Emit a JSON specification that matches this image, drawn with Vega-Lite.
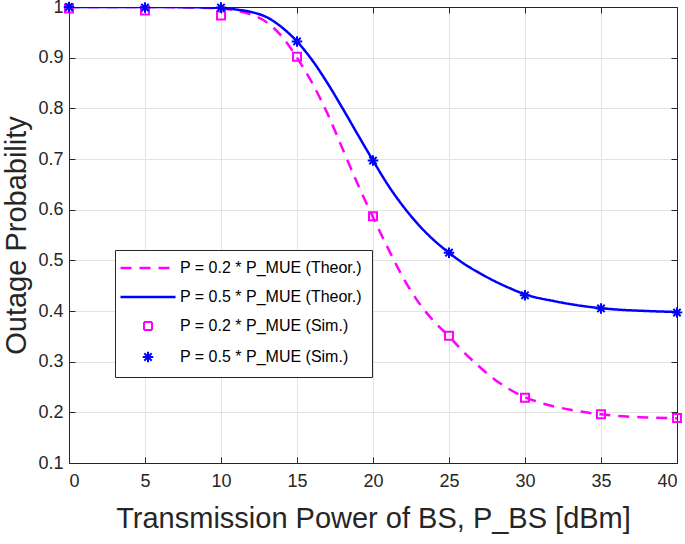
{
  "$schema": "https://vega.github.io/schema/vega-lite/v6.json",
  "width": 608,
  "height": 456,
  "autosize": {"type": "none"},
  "padding": {"left": 69, "top": 7, "right": 8, "bottom": 81},
  "background": "white",
  "config": {
    "font": "Liberation Sans",
    "view": {"stroke": null},
    "axis": {
      "labelFont": "Liberation Sans",
      "titleFont": "Liberation Sans",
      "labelColor": "#262626",
      "titleColor": "#262626",
      "domainColor": "#262626",
      "tickColor": "#262626",
      "labelFontSize": 18,
      "titleFontSize": 29,
      "titleFontWeight": "normal",
      "gridColor": "#e3e3e3",
      "gridWidth": 1,
      "tickSize": -6,
      "domainWidth": 1
    }
  },
  "datasets": {
    "theor": [
      {"x": 0, "p": 1.0, "series": "P = 0.2 * P_MUE (Theor.)"},
      {"x": 5, "p": 1.0, "series": "P = 0.2 * P_MUE (Theor.)"},
      {"x": 8, "p": 0.999, "series": "P = 0.2 * P_MUE (Theor.)"},
      {"x": 10, "p": 0.997, "series": "P = 0.2 * P_MUE (Theor.)"},
      {"x": 11, "p": 0.993, "series": "P = 0.2 * P_MUE (Theor.)"},
      {"x": 12, "p": 0.985, "series": "P = 0.2 * P_MUE (Theor.)"},
      {"x": 13, "p": 0.97, "series": "P = 0.2 * P_MUE (Theor.)"},
      {"x": 14, "p": 0.942, "series": "P = 0.2 * P_MUE (Theor.)"},
      {"x": 15, "p": 0.9, "series": "P = 0.2 * P_MUE (Theor.)"},
      {"x": 16, "p": 0.85, "series": "P = 0.2 * P_MUE (Theor.)"},
      {"x": 17, "p": 0.79, "series": "P = 0.2 * P_MUE (Theor.)"},
      {"x": 18, "p": 0.72, "series": "P = 0.2 * P_MUE (Theor.)"},
      {"x": 19, "p": 0.65, "series": "P = 0.2 * P_MUE (Theor.)"},
      {"x": 20, "p": 0.585, "series": "P = 0.2 * P_MUE (Theor.)"},
      {"x": 21, "p": 0.523, "series": "P = 0.2 * P_MUE (Theor.)"},
      {"x": 22, "p": 0.465, "series": "P = 0.2 * P_MUE (Theor.)"},
      {"x": 23, "p": 0.417, "series": "P = 0.2 * P_MUE (Theor.)"},
      {"x": 24, "p": 0.38, "series": "P = 0.2 * P_MUE (Theor.)"},
      {"x": 25, "p": 0.35, "series": "P = 0.2 * P_MUE (Theor.)"},
      {"x": 26, "p": 0.318, "series": "P = 0.2 * P_MUE (Theor.)"},
      {"x": 27, "p": 0.29, "series": "P = 0.2 * P_MUE (Theor.)"},
      {"x": 28, "p": 0.265, "series": "P = 0.2 * P_MUE (Theor.)"},
      {"x": 29, "p": 0.245, "series": "P = 0.2 * P_MUE (Theor.)"},
      {"x": 30, "p": 0.23, "series": "P = 0.2 * P_MUE (Theor.)"},
      {"x": 31, "p": 0.219, "series": "P = 0.2 * P_MUE (Theor.)"},
      {"x": 32, "p": 0.211, "series": "P = 0.2 * P_MUE (Theor.)"},
      {"x": 33, "p": 0.205, "series": "P = 0.2 * P_MUE (Theor.)"},
      {"x": 34, "p": 0.2, "series": "P = 0.2 * P_MUE (Theor.)"},
      {"x": 35, "p": 0.196, "series": "P = 0.2 * P_MUE (Theor.)"},
      {"x": 36, "p": 0.193, "series": "P = 0.2 * P_MUE (Theor.)"},
      {"x": 38, "p": 0.19, "series": "P = 0.2 * P_MUE (Theor.)"},
      {"x": 40, "p": 0.188, "series": "P = 0.2 * P_MUE (Theor.)"},
      {"x": 0, "p": 1.0, "series": "P = 0.5 * P_MUE (Theor.)"},
      {"x": 5, "p": 1.0, "series": "P = 0.5 * P_MUE (Theor.)"},
      {"x": 8, "p": 0.9995, "series": "P = 0.5 * P_MUE (Theor.)"},
      {"x": 10, "p": 0.998, "series": "P = 0.5 * P_MUE (Theor.)"},
      {"x": 11, "p": 0.995, "series": "P = 0.5 * P_MUE (Theor.)"},
      {"x": 12, "p": 0.99, "series": "P = 0.5 * P_MUE (Theor.)"},
      {"x": 13, "p": 0.98, "series": "P = 0.5 * P_MUE (Theor.)"},
      {"x": 14, "p": 0.96, "series": "P = 0.5 * P_MUE (Theor.)"},
      {"x": 15, "p": 0.932, "series": "P = 0.5 * P_MUE (Theor.)"},
      {"x": 16, "p": 0.895, "series": "P = 0.5 * P_MUE (Theor.)"},
      {"x": 17, "p": 0.85, "series": "P = 0.5 * P_MUE (Theor.)"},
      {"x": 18, "p": 0.8, "series": "P = 0.5 * P_MUE (Theor.)"},
      {"x": 19, "p": 0.748, "series": "P = 0.5 * P_MUE (Theor.)"},
      {"x": 20, "p": 0.697, "series": "P = 0.5 * P_MUE (Theor.)"},
      {"x": 21, "p": 0.648, "series": "P = 0.5 * P_MUE (Theor.)"},
      {"x": 22, "p": 0.606, "series": "P = 0.5 * P_MUE (Theor.)"},
      {"x": 23, "p": 0.57, "series": "P = 0.5 * P_MUE (Theor.)"},
      {"x": 24, "p": 0.54, "series": "P = 0.5 * P_MUE (Theor.)"},
      {"x": 25, "p": 0.515, "series": "P = 0.5 * P_MUE (Theor.)"},
      {"x": 26, "p": 0.493, "series": "P = 0.5 * P_MUE (Theor.)"},
      {"x": 27, "p": 0.475, "series": "P = 0.5 * P_MUE (Theor.)"},
      {"x": 28, "p": 0.459, "series": "P = 0.5 * P_MUE (Theor.)"},
      {"x": 29, "p": 0.445, "series": "P = 0.5 * P_MUE (Theor.)"},
      {"x": 30, "p": 0.433, "series": "P = 0.5 * P_MUE (Theor.)"},
      {"x": 32, "p": 0.419, "series": "P = 0.5 * P_MUE (Theor.)"},
      {"x": 34, "p": 0.409, "series": "P = 0.5 * P_MUE (Theor.)"},
      {"x": 36, "p": 0.403, "series": "P = 0.5 * P_MUE (Theor.)"},
      {"x": 38, "p": 0.4, "series": "P = 0.5 * P_MUE (Theor.)"},
      {"x": 40, "p": 0.398, "series": "P = 0.5 * P_MUE (Theor.)"}
    ],
    "sim": [
      {"x": 0, "p": 0.997, "series": "P = 0.2 * P_MUE (Sim.)"},
      {"x": 5, "p": 0.993, "series": "P = 0.2 * P_MUE (Sim.)"},
      {"x": 10, "p": 0.983, "series": "P = 0.2 * P_MUE (Sim.)"},
      {"x": 15, "p": 0.902, "series": "P = 0.2 * P_MUE (Sim.)"},
      {"x": 20, "p": 0.587, "series": "P = 0.2 * P_MUE (Sim.)"},
      {"x": 25, "p": 0.351, "series": "P = 0.2 * P_MUE (Sim.)"},
      {"x": 30, "p": 0.229, "series": "P = 0.2 * P_MUE (Sim.)"},
      {"x": 35, "p": 0.196, "series": "P = 0.2 * P_MUE (Sim.)"},
      {"x": 40, "p": 0.189, "series": "P = 0.2 * P_MUE (Sim.)"},
      {"x": 0, "p": 1.0, "series": "P = 0.5 * P_MUE (Sim.)"},
      {"x": 5, "p": 0.999, "series": "P = 0.5 * P_MUE (Sim.)"},
      {"x": 10, "p": 0.999, "series": "P = 0.5 * P_MUE (Sim.)"},
      {"x": 15, "p": 0.932, "series": "P = 0.5 * P_MUE (Sim.)"},
      {"x": 20, "p": 0.697, "series": "P = 0.5 * P_MUE (Sim.)"},
      {"x": 25, "p": 0.515, "series": "P = 0.5 * P_MUE (Sim.)"},
      {"x": 30, "p": 0.431, "series": "P = 0.5 * P_MUE (Sim.)"},
      {"x": 35, "p": 0.405, "series": "P = 0.5 * P_MUE (Sim.)"},
      {"x": 40, "p": 0.397, "series": "P = 0.5 * P_MUE (Sim.)"}
    ]
  },
  "resolve": {"axis": {"x": "independent", "y": "independent"}},
  "layer": [
    {
      "data": {"name": "theor"},
      "mark": {"type": "line", "strokeWidth": 2.5, "interpolate": "monotone", "clip": true},
      "encoding": {
        "x": {"field": "x", "type": "quantitative",
          "scale": {"domain": [0, 40], "nice": false, "zero": false},
          "axis": {"values": [0,5,10,15,20,25,30,35,40], "title": "Transmission Power of BS, P_BS [dBm]", "labelPadding": 15, "titlePadding": 14, "grid": true}},
        "y": {"field": "p", "type": "quantitative",
          "scale": {"domain": [0.1, 1], "nice": false, "zero": false},
          "axis": {"values": [0.1,0.2,0.3,0.4,0.5,0.6,0.7,0.8,0.9,1], "format": ".1~f", "title": "Outage Probability", "labelPadding": 12, "titlePadding": 6, "grid": true}},
        "color": {"field": "series", "type": "nominal",
          "scale": {"domain": ["P = 0.2 * P_MUE (Theor.)", "P = 0.5 * P_MUE (Theor.)", "P = 0.2 * P_MUE (Sim.)", "P = 0.5 * P_MUE (Sim.)"],
                    "range": ["#FF00FF", "#0000FF", "#FF00FF", "#0000FF"]},
          "legend": {
            "title": null,
            "orient": "none",
            "legendX": 46,
            "legendY": 243,
            "labelFont": "Liberation Sans",
            "labelFontSize": 16,
            "labelColor": "#000000",
            "labelLimit": 400,
            "labelOffset": 24,
            "symbolOffset": 15,
            "symbolSize": 3025,
            "rowPadding": 13,
            "padding": 10,
            "strokeColor": "#262626",
            "fillColor": "white",
            "symbolStrokeWidth": 2.5,
            "encode": {
              "symbols": {
                "update": {
                  "shape": {"signal": "datum.index < 2 ? 'M-1,0H1' : (datum.index == 2 ? 'square' : 'M-1,0L1,0M0,-1L0,1M-0.7,-0.7L0.7,0.7M-0.7,0.7L0.7,-0.7')"},
                  "size": {"signal": "datum.index < 2 ? 3025 : (datum.index == 2 ? 64 : 110)"},
                  "stroke": {"signal": "datum.index % 2 == 0 ? '#FF00FF' : '#0000FF'"},
                  "fill": {"signal": "'transparent'"},
                  "strokeDash": {"signal": "datum.index == 0 ? [11, 8] : [1, 0]"},
                  "strokeWidth": {"signal": "datum.index < 2 ? 2.5 : 2"},
                  "opacity": {"value": 1}
                }
              }
            }
          }},
        "strokeDash": {"field": "series", "type": "nominal",
          "scale": {"domain": ["P = 0.2 * P_MUE (Theor.)", "P = 0.5 * P_MUE (Theor.)"], "range": [[11, 8], [1, 0]]},
          "legend": null}
      }
    },
    {
      "data": {"name": "sim"},
      "mark": {"type": "point", "filled": false, "strokeWidth": 2, "opacity": 1, "clip": false},
      "encoding": {
        "x": {"field": "x", "type": "quantitative", "axis": null},
        "y": {"field": "p", "type": "quantitative", "axis": null},
        "color": {"field": "series", "type": "nominal"},
        "shape": {"field": "series", "type": "nominal",
          "scale": {"domain": ["P = 0.2 * P_MUE (Sim.)", "P = 0.5 * P_MUE (Sim.)"],
                    "range": ["square", "M-1,0L1,0M0,-1L0,1M-0.7,-0.7L0.7,0.7M-0.7,0.7L0.7,-0.7"]},
          "legend": null},
        "size": {"field": "series", "type": "nominal",
          "scale": {"domain": ["P = 0.2 * P_MUE (Sim.)", "P = 0.5 * P_MUE (Sim.)"], "range": [64, 110]},
          "legend": null}
      }
    },
    {
      "data": {"name": "sim"},
      "mark": {"type": "point", "opacity": 0},
      "encoding": {
        "x": {"field": "x", "type": "quantitative",
          "axis": {"orient": "top", "values": [0,5,10,15,20,25,30,35,40], "labels": false, "title": null, "grid": false}},
        "y": {"field": "p", "type": "quantitative",
          "axis": {"orient": "right", "values": [0.1,0.2,0.3,0.4,0.5,0.6,0.7,0.8,0.9,1], "labels": false, "title": null, "grid": false}}
      }
    }
  ]
}
